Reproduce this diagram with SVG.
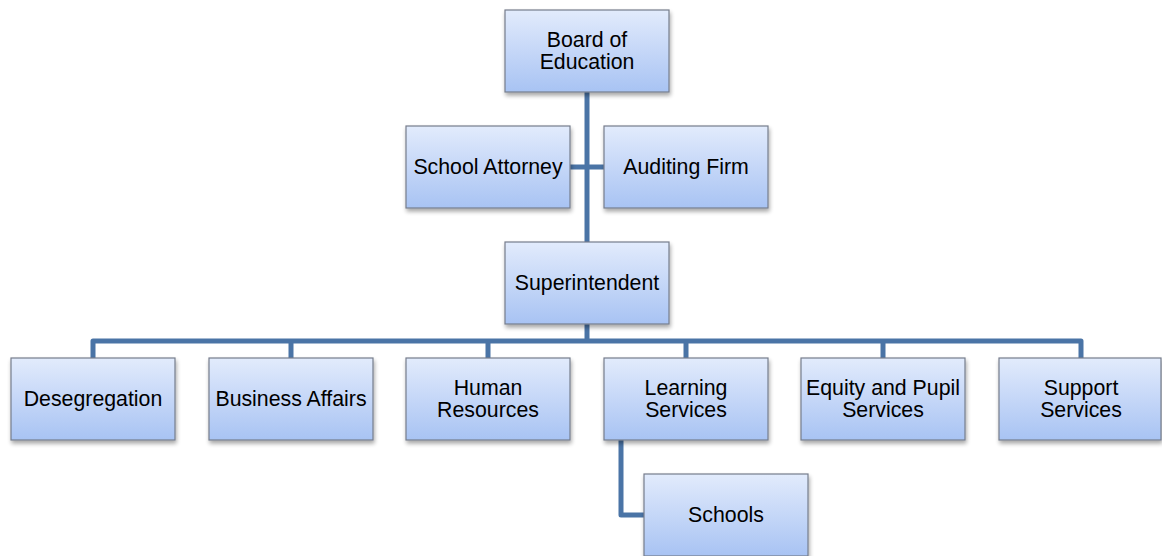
<svg xmlns="http://www.w3.org/2000/svg" width="1162" height="556" viewBox="0 0 1162 556">
  <style>
    .box { fill: url(#boxFill); stroke: #767d8c; stroke-width: 1.2; filter: url(#shadow); }
    .lbl { font-family: "Liberation Sans", Arial, sans-serif; font-size: 21.3px; fill: #000; text-anchor: middle; }
    .link { fill: none; stroke: #4a74a6; stroke-width: 5; stroke-linejoin: round; }
  </style>
  <defs>
    <linearGradient id="boxFill" x1="0" y1="0" x2="0" y2="1">
      <stop offset="0" stop-color="#e2ebfc"/>
      <stop offset="1" stop-color="#a8c3f3"/>
    </linearGradient>
    <filter id="shadow" x="-10%" y="-10%" width="125%" height="130%">
      <feGaussianBlur in="SourceAlpha" stdDeviation="2"/>
      <feOffset dx="1" dy="3" result="b"/>
      <feComponentTransfer><feFuncA type="linear" slope="0.35"/></feComponentTransfer>
      <feMerge><feMergeNode/><feMergeNode in="SourceGraphic"/></feMerge>
    </filter>
  </defs>
  <rect width="1162" height="556" fill="#fff"/>

  <g id="connectors">
    <path class="link" d="M587 92 V242"/>
    <path class="link" d="M570 167 H604"/>
    <path class="link" d="M587 324 V341"/>
    <path class="link" d="M93 358 V341 H1081 V358"/>
    <path class="link" d="M291 341 V358 M488 341 V358 M686 341 V358 M883 341 V358"/>
    <path class="link" d="M621 440 V515 H644"/>
  </g>

  <g id="board">
    <rect class="box" x="505" y="10" width="164" height="82"/>
    <text class="lbl" x="587" y="47">Board of</text>
    <text class="lbl" x="587" y="69">Education</text>
  </g>
  <g id="attorney">
    <rect class="box" x="406" y="126" width="164" height="82"/>
    <text class="lbl" x="488" y="174">School Attorney</text>
  </g>
  <g id="auditing">
    <rect class="box" x="604" y="126" width="164" height="82"/>
    <text class="lbl" x="686" y="174">Auditing Firm</text>
  </g>
  <g id="superintendent">
    <rect class="box" x="505" y="242" width="164" height="82"/>
    <text class="lbl" x="587" y="290">Superintendent</text>
  </g>
  <g id="desegregation">
    <rect class="box" x="11" y="358" width="164" height="82"/>
    <text class="lbl" x="93" y="406">Desegregation</text>
  </g>
  <g id="business">
    <rect class="box" x="209" y="358" width="164" height="82"/>
    <text class="lbl" x="291" y="406">Business Affairs</text>
  </g>
  <g id="hr">
    <rect class="box" x="406" y="358" width="164" height="82"/>
    <text class="lbl" x="488" y="395">Human</text>
    <text class="lbl" x="488" y="417">Resources</text>
  </g>
  <g id="learning">
    <rect class="box" x="604" y="358" width="164" height="82"/>
    <text class="lbl" x="686" y="395">Learning</text>
    <text class="lbl" x="686" y="417">Services</text>
  </g>
  <g id="equity">
    <rect class="box" x="801" y="358" width="164" height="82"/>
    <text class="lbl" x="883" y="395">Equity and Pupil</text>
    <text class="lbl" x="883" y="417">Services</text>
  </g>
  <g id="support">
    <rect class="box" x="999" y="358" width="162" height="82"/>
    <text class="lbl" x="1081" y="395">Support</text>
    <text class="lbl" x="1081" y="417">Services</text>
  </g>
  <g id="schools">
    <rect class="box" x="644" y="474" width="164" height="82"/>
    <text class="lbl" x="726" y="522">Schools</text>
  </g>
</svg>
